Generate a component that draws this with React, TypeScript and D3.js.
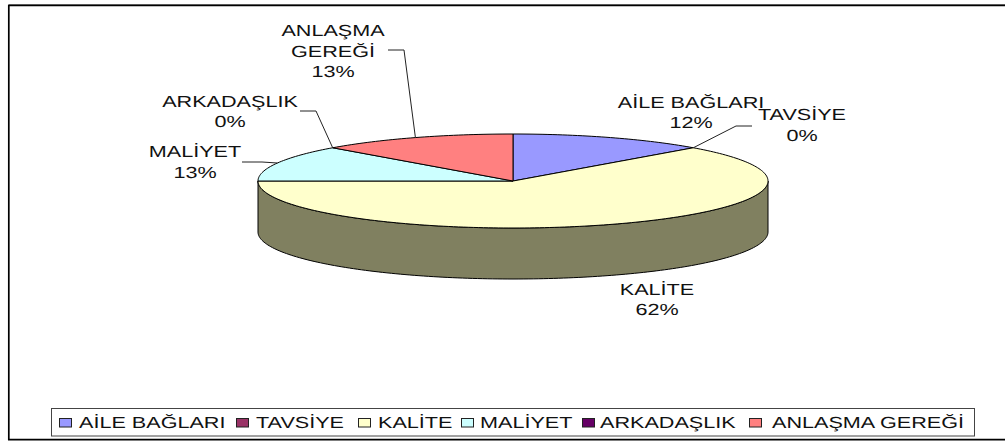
import React from "react";
import * as d3 from "d3";

const categories = ["AİLE BAĞLARI", "TAVSİYE", "KALİTE", "MALİYET", "ARKADAŞLIK", "ANLAŞMA GEREĞİ"];
const values = [12.5, 0, 62.5, 12.5, 0, 12.5];
const percentLabels = ["12%", "0%", "62%", "13%", "0%", "13%"];
const colors = ["#9999FF", "#993366", "#FFFFCC", "#CCFFFF", "#660066", "#FF8080"];
const labelLines = [["AİLE BAĞLARI"], ["TAVSİYE"], ["KALİTE"], ["MALİYET"], ["ARKADAŞLIK"], ["ANLAŞMA", "GEREĞİ"]];

const W = 1005, H = 441;
const CX = 513, CY = 181, RX = 255, RY = 47, DEPTH = 51;
const SX = 1.35, FONT = 16, LINE = 20.5;
const FF = "'Liberation Sans', Arial, sans-serif";

// label anchor: centre x, first baseline y
const labelPos = [[691, 107.5], [802, 120], [657, 294.5], [195, 157], [230, 106.5], [333, 36]];
// leader knee positions, null if the label has no leader
const leaderKnee: (number[][] | null)[] = [
  null,
  [[752, 126], [736, 126]],
  null,
  [[242, 162], [262, 162]],
  [[300, 111], [316, 111]],
  [[388, 50], [404, 50]],
];
const legendSwatchX = [59, 236, 358, 461, 582, 749];
const legendTextX = [79, 256, 378, 480, 600, 772];

const pt = (a: number, dy = 0): [number, number] => [CX + RX * Math.sin(a), CY - RY * Math.cos(a) + dy];

const arcPath = (a0: number, a1: number) => {
  const n = Math.max(2, Math.ceil((a1 - a0) / 0.02));
  return d3.range(n + 1).map((i) => pt(a0 + ((a1 - a0) * i) / n));
};

const pieData = d3.pie<number>().sort(null).value((d) => d)(values);
const line = d3.line();

const W1 = ({ x, y, anchor, children }: any) => (
  <text
    transform={`translate(${x},${y}) scale(${SX},1)`}
    textAnchor={anchor}
    fontFamily={FF}
    fontSize={FONT}
    fill="#111"
    textRendering="geometricPrecision"
  >
    {children}
  </text>
);

export default function App() {
  const a90 = Math.PI / 2, a270 = (3 * Math.PI) / 2;
  const top = arcPath(a90, a270);
  const bottom = top.map(([x, y]) => [x, y + DEPTH] as [number, number]).reverse();
  const side = line([...top, ...bottom]) + "Z";

  return (
    <svg width={W} height={H} style={{ position: "absolute", left: 0, top: 0, background: "#fff" }}>
      <path d={`M${W},4.5H${8.5}`} stroke="#777" strokeWidth={1} fill="none" />
      <path d={`M${W},5.5H8.8V439.7H${W}`} stroke="#000" strokeWidth={1.7} fill="none" />

      <path d={side} fill="#808060" stroke="#000" strokeWidth={1} />
      {pieData.map((d, i) =>
        d.endAngle > d.startAngle ? (
          <path
            key={i}
            d={line([[CX, CY], ...arcPath(d.startAngle, d.endAngle)]) + "Z"}
            fill={colors[i]}
            stroke="#000"
            strokeWidth={1}
            strokeLinejoin="round"
          />
        ) : null
      )}

      {pieData.map((d, i) => {
        const knee = leaderKnee[i];
        if (!knee) return null;
        const end = pt((d.startAngle + d.endAngle) / 2);
        return <path key={i} d={line([...(knee as [number, number][]), end]) as string} fill="none" stroke="#222" strokeWidth={1} />;
      })}

      {categories.map((c, i) => {
        const [x, y] = labelPos[i];
        const ls = [...labelLines[i], percentLabels[i]];
        return (
          <g key={c}>
            {ls.map((t, j) => (
              <W1 key={j} x={x} y={y + j * LINE} anchor="middle">{t}</W1>
            ))}
          </g>
        );
      })}

      <rect x={51.5} y={408.5} width={923} height={27.5} fill="#fff" stroke="#444" strokeWidth={1} />
      {categories.map((c, i) => (
        <g key={c}>
          <rect x={legendSwatchX[i] + 0.5} y={418.5} width={12} height={8.5} fill={colors[i]} stroke="#222" strokeWidth={1} />
          <W1 x={legendTextX[i]} y={427.5} anchor="start">{c}</W1>
        </g>
      ))}
    </svg>
  );
}
